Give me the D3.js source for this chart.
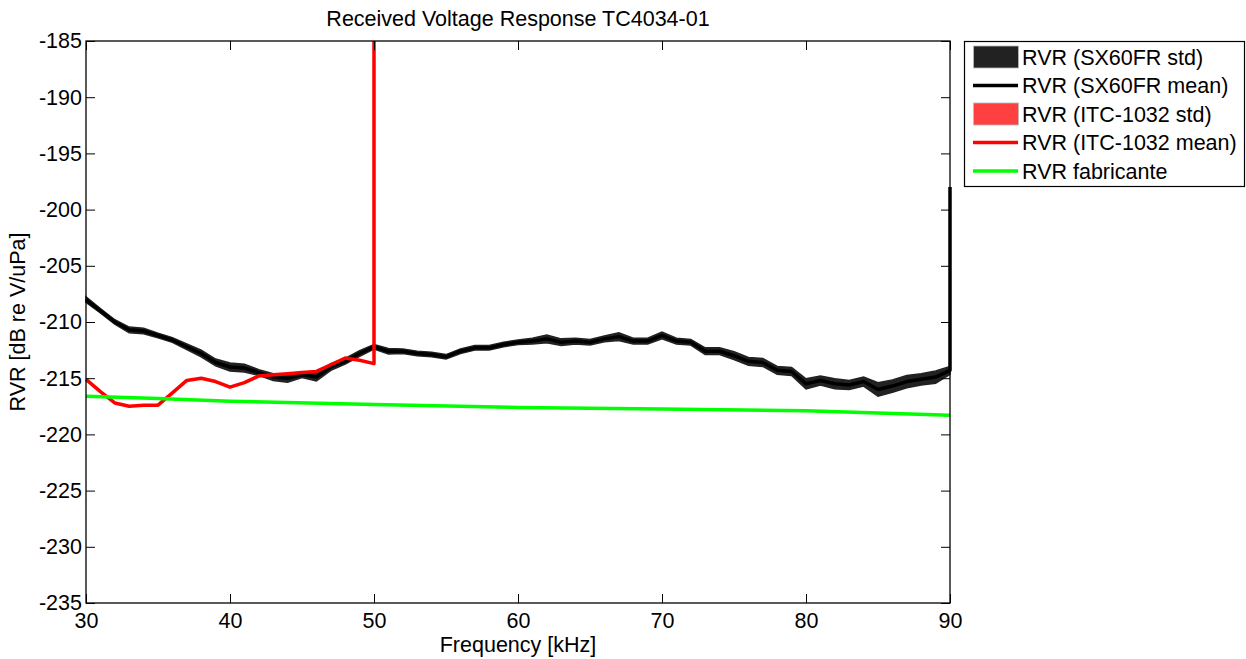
<!DOCTYPE html>
<html><head><meta charset="utf-8">
<script src="https://cdn.jsdelivr.net/npm/d3@7"></script>
<style>
html,body{margin:0;padding:0;background:#fff;}
text{font-family:"Liberation Sans",Arial,sans-serif;fill:#000;}
</style></head>
<body>
<svg id="c" width="1246" height="659"></svg>
<script>
// ---- data ----
const sxFreq = d3.range(30, 91);
const sxMean = [-208.0,-209.0,-210.0,-210.7,-210.8,-211.2,-211.6,-212.2,-212.8,-213.6,
  -214.0,-214.1,-214.5,-214.9,-215.0,-214.7,-214.9,-214.0,-213.5,-212.8,
  -212.2,-212.6,-212.6,-212.8,-212.9,-213.1,-212.6,-212.3,-212.3,-212.0,
  -211.8,-211.7,-211.5,-211.8,-211.7,-211.8,-211.5,-211.3,-211.7,-211.7,
  -211.2,-211.7,-211.8,-212.6,-212.6,-213.0,-213.5,-213.6,-214.3,-214.4,
  -215.5,-215.2,-215.5,-215.6,-215.3,-216.0,-215.7,-215.3,-215.1,-214.9,
  -214.3];
const sxStd = [0.25,0.2,0.2,0.25,0.25,0.2,0.2,0.25,0.3,0.3,
  0.35,0.35,0.25,0.3,0.35,0.25,0.35,0.3,0.25,0.25,
  0.2,0.25,0.2,0.2,0.2,0.2,0.2,0.2,0.2,0.2,
  0.2,0.25,0.35,0.3,0.25,0.25,0.25,0.35,0.25,0.25,
  0.3,0.25,0.25,0.3,0.3,0.35,0.35,0.35,0.35,0.35,
  0.45,0.4,0.45,0.4,0.4,0.6,0.55,0.55,0.5,0.55,
  0.35];
// final sample at 90 kHz jumps up
const sxTailFreq = 90, sxTailVal = -198.0;

const itcFreq = d3.range(30, 51);
const itcMean = [-215.1,-216.2,-217.2,-217.5,-217.4,-217.4,-216.3,-215.2,-215.0,-215.3,
  -215.8,-215.4,-214.8,-214.7,-214.6,-214.5,-214.4,-213.8,-213.2,-213.4,-213.7];
const itcStd = [0.05,0.05,0.05,0.05,0.05,0.05,0.05,0.05,0.05,0.05,
  0.05,0.05,0.05,0.05,0.05,0.05,0.05,0.05,0.05,0.05,0.05];
const itcTailFreq = 50, itcTailVal = -140.0;

const fabFreq = [30, 35, 40, 50, 60, 70, 80, 90];
const fabVal = [-216.6, -216.8, -217.05, -217.35, -217.6, -217.75, -217.9, -218.3];

const xTicks = [30, 40, 50, 60, 70, 80, 90];
const yTicks = [-235,-230,-225,-220,-215,-210,-205,-200,-195,-190,-185];
const legendLabels = ["RVR (SX60FR std)","RVR (SX60FR mean)","RVR (ITC-1032 std)","RVR (ITC-1032 mean)","RVR fabricante"];

// ---- layout ----
const L = 86, R = 950, T = 41, B = 603;
const FS = 21.5;
const svg = d3.select("#c");
const x = d3.scaleLinear().domain([30, 90]).range([L, R]);
const y = d3.scaleLinear().domain([-235, -185]).range([B, T]);

svg.append("defs").append("clipPath").attr("id","clip")
  .append("rect").attr("x", L-3).attr("y", T).attr("width", R-L+6).attr("height", B-T);

const g = svg.append("g").attr("clip-path","url(#clip)");

const area = d3.area().x(d=>x(d.f)).y0(d=>y(d.m-d.s)).y1(d=>y(d.m+d.s));
const line = d3.line().x(d=>x(d.f)).y(d=>y(d.m));

const sx = sxFreq.map((f,i)=>({f, m:sxMean[i], s:sxStd[i]}));
const itc = itcFreq.map((f,i)=>({f, m:itcMean[i], s:itcStd[i]}));

g.append("path").datum(sx).attr("d", area).attr("fill","#222").attr("stroke","#222").attr("stroke-width",1.5);
g.append("path").datum(sx.concat([{f:sxTailFreq, m:sxTailVal}])).attr("d", line)
  .attr("fill","none").attr("stroke","#000").attr("stroke-width",3.5).attr("stroke-linejoin","round");

g.append("path").datum(itc).attr("d", area).attr("fill","#ff4040");
g.append("path").datum(itc.concat([{f:itcTailFreq, m:itcTailVal}])).attr("d", line)
  .attr("fill","none").attr("stroke","#ff0000").attr("stroke-width",3.5).attr("stroke-linejoin","round");

g.append("path").datum(fabFreq.map((f,i)=>({f, m:fabVal[i]}))).attr("d", line)
  .attr("fill","none").attr("stroke","#00ff00").attr("stroke-width",3.5);

// ---- axes ----
const tl = 9;
const fmt = d => String(d);
const ax = svg.append("g");
ax.append("g").attr("transform",`translate(0,${B})`)
  .call(d3.axisBottom(x).tickValues(xTicks).tickFormat(fmt).tickSizeInner(-tl).tickSizeOuter(0).tickPadding(10))
  .call(s=>s.selectAll("text").attr("font-size",FS).attr("dy","0.71em"));
ax.append("g").attr("transform",`translate(0,${T})`)
  .call(d3.axisTop(x).tickValues(xTicks).tickSizeInner(-tl).tickSizeOuter(0).tickFormat(""));
ax.append("g").attr("transform",`translate(${L},0)`)
  .call(d3.axisLeft(y).tickValues(yTicks).tickFormat(fmt).tickSizeInner(-tl).tickSizeOuter(0).tickPadding(4))
  .call(s=>s.selectAll("text").attr("font-size",FS));
ax.append("g").attr("transform",`translate(${R},0)`)
  .call(d3.axisRight(y).tickValues(yTicks).tickSizeInner(-tl).tickSizeOuter(0).tickFormat(""));
ax.selectAll(".domain").remove();
ax.selectAll("text").attr("font-family","Liberation Sans, Arial, sans-serif").attr("fill","#000");
ax.selectAll("line").attr("stroke","#000");
svg.append("rect").attr("x",L).attr("y",T).attr("width",R-L).attr("height",B-T)
  .attr("fill","none").attr("stroke","#000").attr("stroke-width",1.3);

// ---- labels ----
svg.append("text").attr("x",(L+R)/2).attr("y",26).attr("text-anchor","middle").attr("font-size",FS)
  .text("Received Voltage Response TC4034-01");
svg.append("text").attr("x",(L+R)/2).attr("y",652).attr("text-anchor","middle").attr("font-size",FS)
  .text("Frequency [kHz]");
svg.append("text").attr("transform",`translate(25,${(T+B)/2}) rotate(-90)`).attr("text-anchor","middle").attr("font-size",FS)
  .text("RVR [dB re V/uPa]");

// ---- legend ----
const lg = svg.append("g");
lg.append("rect").attr("x",964.5).attr("y",41.5).attr("width",280).attr("height",145)
  .attr("fill","#fff").attr("stroke","#000").attr("stroke-width",1.2);
const rowY = [57, 85.5, 114, 142.5, 171];
const swatch = [
  {type:"patch", color:"#222"},
  {type:"line", color:"#000"},
  {type:"patch", color:"#ff4040"},
  {type:"line", color:"#ff0000"},
  {type:"line", color:"#00ff00"}
];
legendLabels.forEach((lab,i)=>{
  const yy = rowY[i];
  const s = swatch[i];
  if (s.type === "patch") {
    lg.append("rect").attr("x",973.5).attr("y",yy-11).attr("width",45).attr("height",22)
      .attr("fill",s.color).attr("stroke","#bbb").attr("stroke-width",0.8);
  } else {
    lg.append("line").attr("x1",973).attr("x2",1018).attr("y1",yy).attr("y2",yy)
      .attr("stroke",s.color).attr("stroke-width",3.5);
  }
  lg.append("text").attr("x",1022).attr("y",yy).attr("dy","0.36em").attr("font-size",FS).text(lab);
});
</script>
</body></html>
